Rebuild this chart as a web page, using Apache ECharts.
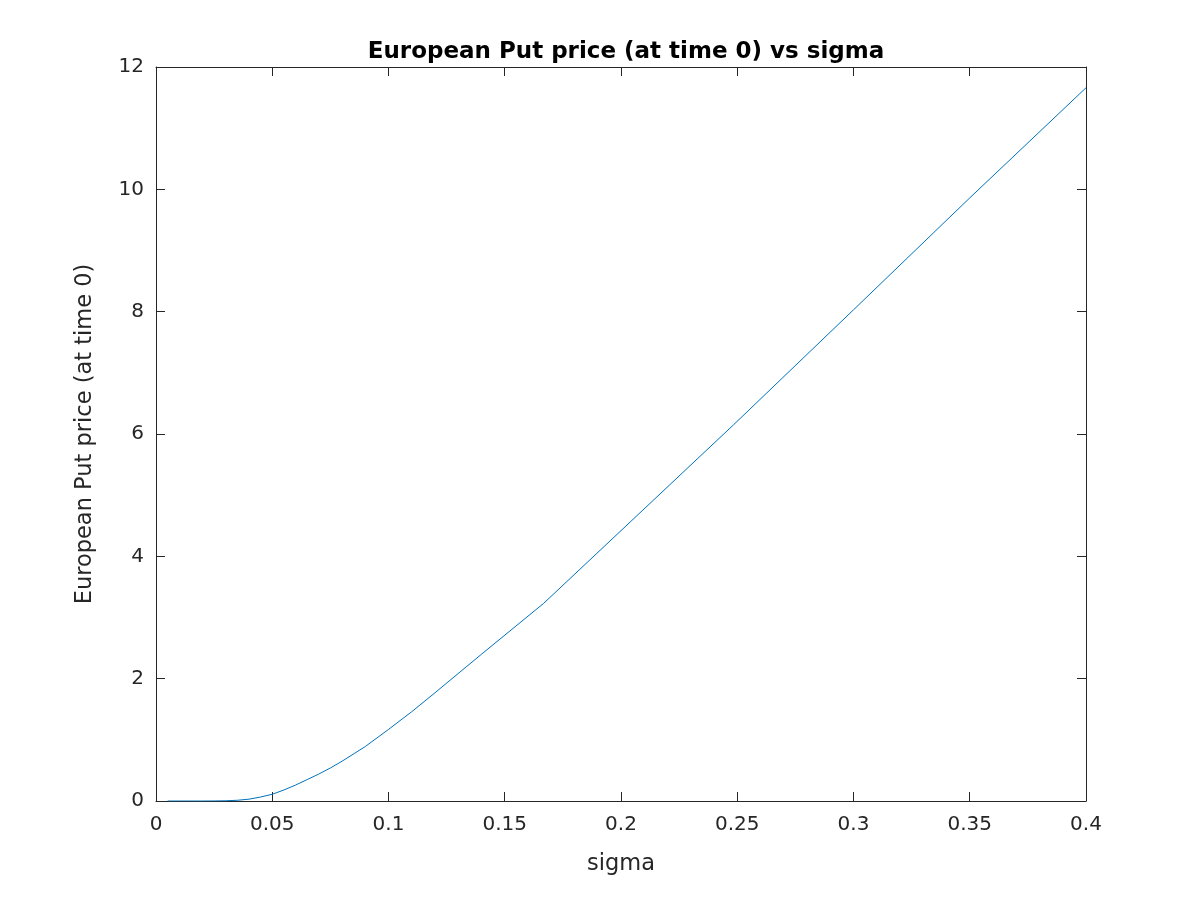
<!DOCTYPE html>
<html>
<head>
  <meta charset="UTF-8" />
  <title>European Put price vs sigma</title>
  <script src="https://cdn.jsdelivr.net/npm/echarts@6/dist/echarts.min.js"></script>
  <style>
    body { margin: 0; background: #fff; }
    #chart { width: 1200px; height: 900px; }
  </style>
</head>
<body>
  <div id="chart"></div>
  <script>
    // values
    const sigmas = [0.005, 0.01, 0.015, 0.02, 0.025, 0.03, 0.035, 0.04, 0.045, 0.05,
      0.055, 0.06, 0.065, 0.07, 0.075, 0.08, 0.09, 0.1, 0.11, 0.12,
      0.14, 0.1667, 0.2, 0.2484, 0.3, 0.35, 0.4];
    const putPrices = [0, 0, 0, 0, 0.001, 0.004, 0.012, 0.03, 0.065, 0.11,
      0.18, 0.26, 0.35, 0.44, 0.54, 0.65, 0.89, 1.17, 1.46, 1.77,
      2.4, 3.23, 4.42, 6.15, 8.03, 9.86, 11.66];

    const font = 'DejaVu Sans, sans-serif';
    const axisColor = '#262626';
    const boxAxis = (extra) => Object.assign({
      axisLine: { show: true, onZero: false, lineStyle: { color: axisColor, width: 1 } },
      axisTick: { show: true, inside: true, length: 9, lineStyle: { color: axisColor } },
      splitLine: { show: false }
    }, extra);

    const chart = echarts.init(document.getElementById('chart'));
    chart.setOption({
      animation: false,
      backgroundColor: '#fff',
      title: {
        text: 'European Put price (at time 0) vs sigma',
        left: 621, top: 36, textAlign: 'center',
        textStyle: { fontFamily: font, fontSize: 23, fontWeight: 'bold', color: '#000' }
      },
      grid: { left: 156, right: 114, top: 67, bottom: 99 },
      xAxis: [
        boxAxis({
          type: 'value', min: 0, max: 0.4, interval: 0.05, position: 'bottom',
          name: 'sigma', nameLocation: 'middle', nameGap: 52,
          nameTextStyle: { fontFamily: font, fontSize: 22.5, color: axisColor },
          axisLabel: { fontFamily: font, fontSize: 20, color: axisColor, margin: 14 }
        }),
        boxAxis({
          type: 'value', min: 0, max: 0.4, interval: 0.05, position: 'top',
          axisLabel: { show: false }
        })
      ],
      yAxis: [
        boxAxis({
          type: 'value', min: 0, max: 12, interval: 2, position: 'left',
          name: 'European Put price (at time 0)', nameLocation: 'middle', nameGap: 59,
          nameTextStyle: { fontFamily: font, fontSize: 22.5, color: axisColor },
          axisLabel: { fontFamily: font, fontSize: 20, color: axisColor, margin: 12 }
        }),
        boxAxis({
          type: 'value', min: 0, max: 12, interval: 2, position: 'right',
          axisLabel: { show: false }
        })
      ],
      series: [{
        type: 'line',
        data: sigmas.map((s, i) => [s, putPrices[i]]),
        showSymbol: false,
        smooth: false,
        lineStyle: { color: '#0072BD', width: 1 },
        itemStyle: { color: '#0072BD' }
      }]
    });
  </script>
</body>
</html>
